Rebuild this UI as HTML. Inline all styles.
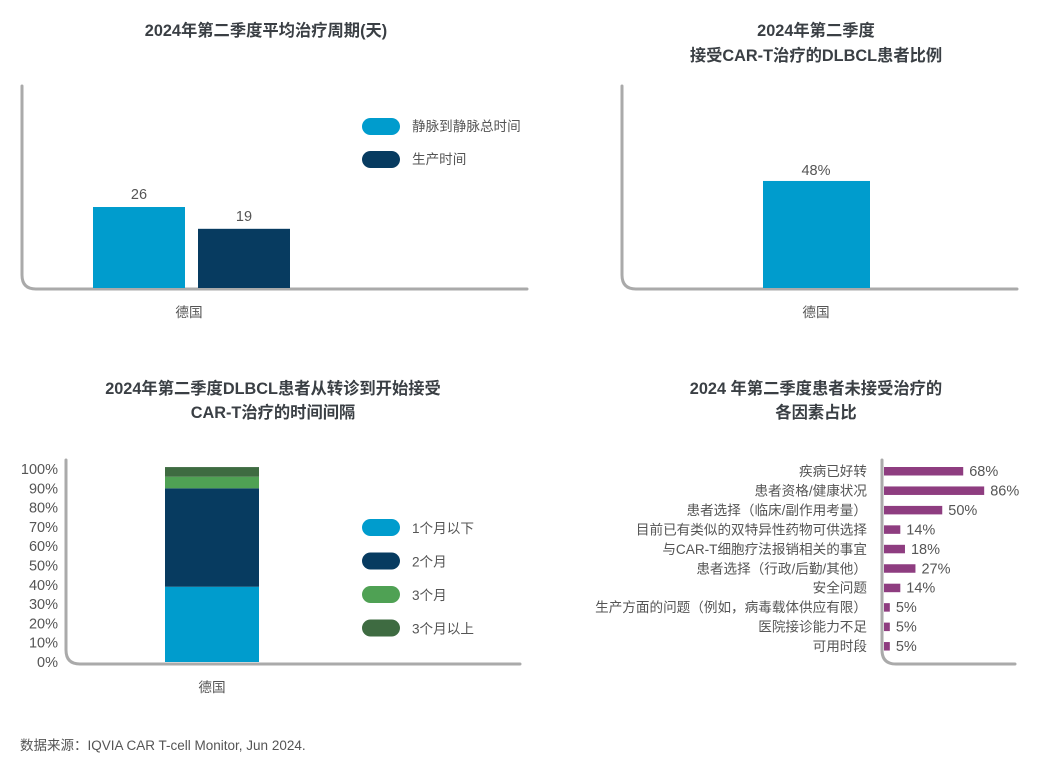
<!DOCTYPE html>
<html><head><meta charset="utf-8"><style>
body{margin:0;background:#fff}
svg{display:block;font-family:"Liberation Sans","Noto Sans CJK SC",sans-serif}
.t{font-weight:bold;font-size:16.3px;fill:#3a3f44;text-anchor:middle}
.l{font-size:13.6px;fill:#555}
.v{font-size:14.5px;fill:#555}
.ax{fill:none;stroke:#aaaaaa;stroke-width:3;stroke-linecap:round}
</style></head><body>
<svg width="1044" height="762" viewBox="0 0 1044 762">
<g>
<text class="t" x="266" y="36">2024年第二季度平均治疗周期(天)</text>
<path class="ax" d="M22,86 V275 Q22,289 36,289 H527"/>
<g id="c1"></g>
<text class="l" x="189" y="317" text-anchor="middle">德国</text>
<rect x="362" y="118" width="38" height="17" rx="8.5" fill="#009ccd"/>
<text class="l" x="412" y="131">静脉到静脉总时间</text>
<rect x="362" y="151" width="38" height="17" rx="8.5" fill="#073b60"/>
<text class="l" x="412" y="164">生产时间</text>
</g>
<g>
<text class="t" x="816" y="36">2024年第二季度</text>
<text class="t" x="816" y="61">接受CAR-T治疗的DLBCL患者比例</text>
<path class="ax" d="M622,86 V275 Q622,289 636,289 H1017"/>
<g id="c2"></g>
<text class="l" x="816" y="317" text-anchor="middle">德国</text>
</g>
<g>
<text class="t" x="273" y="394">2024年第二季度DLBCL患者从转诊到开始接受</text>
<text class="t" x="273" y="418">CAR-T治疗的时间间隔</text>
<path class="ax" d="M66,460 V650 Q66,664 80,664 H520"/>
<g id="c3"></g>
<text class="l" x="212" y="692" text-anchor="middle">德国</text>
</g>
<g>
<text class="t" x="816" y="394">2024 年第二季度患者未接受治疗的</text>
<text class="t" x="816" y="418">各因素占比</text>
<path class="ax" d="M882,460 V650 Q882,664 896,664 H1015"/>
<g id="c4"></g>
</g>
<text x="20" y="750" font-size="13.5" fill="#555">数据来源：IQVIA CAR T-cell Monitor, Jun 2024.</text>
</svg>
<script>
const c1Series=["静脉到静脉总时间","生产时间"];
const c1Values=[26,19];
const c2Values=[48];
const c3Series=["1个月以下","2个月","3个月","3个月以上"];
const c3Values=[39,51,6,5];
const c3Ticks=[0,10,20,30,40,50,60,70,80,90,100];
const c4Cats=["疾病已好转","患者资格/健康状况","患者选择（临床/副作用考量）","目前已有类似的双特异性药物可供选择","与CAR-T细胞疗法报销相关的事宜","患者选择（行政/后勤/其他）","安全问题","生产方面的问题（例如，病毒载体供应有限）","医院接诊能力不足","可用时段"];
const c4Values=[68,86,50,14,18,27,14,5,5,5];
const NS="http://www.w3.org/2000/svg";
function mk(p,tag,at,txt){const e=document.createElementNS(NS,tag);for(const k in at)e.setAttribute(k,at[k]);if(txt!=null)e.textContent=txt;p.appendChild(e);return e;}
const g1=document.getElementById('c1');const y1=v=>288-v*3.115;const col1=["#009ccd","#073b60"];
c1Values.forEach((v,i)=>{const x=93+i*105;
const r=mk(g1,'rect',{x:x,y:y1(v),width:92,height:288-y1(v),fill:col1[i]});


const t=mk(g1,'text',{x:x+46,y:y1(v)-8,class:'v','text-anchor':'middle'},String(v));

});
const g2=document.getElementById('c2');const y2=v=>288-v*2.23;
c2Values.forEach((v,i)=>{const r=mk(g2,'rect',{x:763,y:y2(v),width:107,height:288-y2(v),fill:"#009ccd"});


const t=mk(g2,'text',{x:816,y:y2(v)-6,class:'v','text-anchor':'middle'},v+'%');

});
const g3=document.getElementById('c3');const y3=v=>662-v*1.93;const col3=["#009ccd","#073b60","#4fa154","#3e6b41"];
c3Ticks.forEach(t=>{const e=mk(g3,'text',{x:58,y:y3(t)+5,class:'v','text-anchor':'end'},t+'%');

});
let acc=0;c3Values.forEach((v,i)=>{const r=mk(g3,'rect',{x:165,y:y3(acc+v),width:94,height:v*1.93,fill:col3[i]});


acc+=v;
const s=mk(g3,'rect',{x:362,y:519+i*33.5,width:38,height:17,rx:8.5,fill:col3[i]});


const lt=mk(g3,'text',{x:412,y:533+i*33.5,class:'l'},c3Series[i]);

});
const g4=document.getElementById('c4');const x4=v=>884+v*1.165;
c4Cats.forEach((c,i)=>{const cy=471+i*19.45;
const t=mk(g4,'text',{x:867,y:cy+5,class:'l','text-anchor':'end'},c);


const r=mk(g4,'rect',{x:884,y:cy-4,width:x4(c4Values[i])-884,height:8.5,fill:"#8e3d80"});


const v=mk(g4,'text',{x:x4(c4Values[i])+6,y:cy+5,class:'v'},c4Values[i]+'%');

});
</script>
</body></html>
